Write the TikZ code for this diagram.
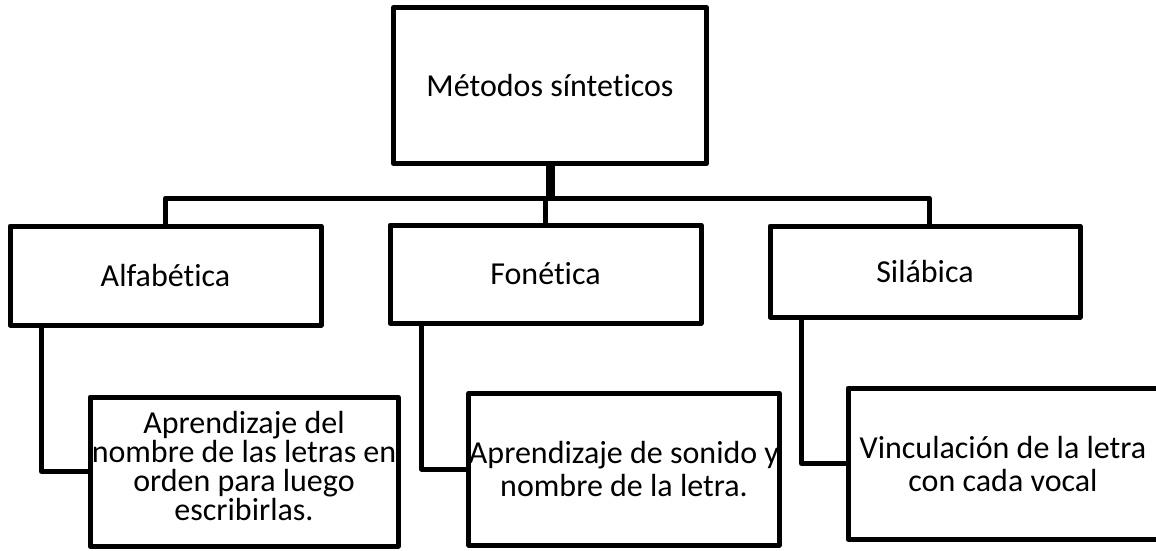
\documentclass[tikz,border=0pt]{standalone}
\usepackage{fontspec}
\setmainfont{Carlito}[Ligatures=NoCommon]
\begin{document}
\begin{tikzpicture}[x=1pt,y=-1pt,
  box/.style={draw=black, line width=5pt, line join=round, inner sep=0pt, align=center,
              font=\fontsize{32}{33}\selectfont},
  txt/.style={inner sep=0pt, align=center, font=\fontsize{32}{29}\selectfont},
  conn/.style={draw=black, line width=5pt, line join=round},
  thickconn/.style={draw=black, line width=9pt}]
\useasboundingbox (0,0) rectangle (1156,550);
\clip (0,0) rectangle (1156,550);
% top
\node[box, minimum width=313pt, minimum height=156pt] (top) at (550,85.5) {Métodos sínteticos};
% middle row
\node[box, minimum width=311pt, minimum height=99pt] (alf) at (165.5,275.5) {Alfabética};
\node[box, minimum width=311pt, minimum height=98pt] (fon) at (545.5,274) {Fonética};
\node[box, minimum width=310pt, minimum height=91pt] (sil) at (925,271.5) {Silábica};
% bottom row
\node[box, minimum width=308pt, minimum height=149pt] (alfc) at (244,471.5) {};
\node[txt] (alfct) at (244,466)
  {Aprendizaje del\\nombre de las letras en\\orden para luego\\escribirlas.};
\node[box, minimum width=310pt, minimum height=152pt] (fonc) at (624,469)
  {Aprendizaje de sonido y\\nombre de la letra.};
\node[box, minimum width=310pt, minimum height=151pt] (silc) at (1003,463.5)
  {Vinculación de la letra\\con cada vocal};
% connectors
\coordinate (bus) at (548,198);
\draw[thickconn] (top.south) -- (top.south |- bus);
\draw[conn] (alf.north) |- ([xshift=4pt]sil.north |- bus) -- ([xshift=4pt]sil.north);
\draw[conn] (fon.north |- bus) -- (fon.north);
\draw[conn] ([xshift=34pt]alf.south west) |- (alfc.west);
\draw[conn] ([xshift=34pt]fon.south west) |- (fonc.west);
\draw[conn] ([xshift=34pt]sil.south west) |- (silc.west);
\end{tikzpicture}
\end{document}
